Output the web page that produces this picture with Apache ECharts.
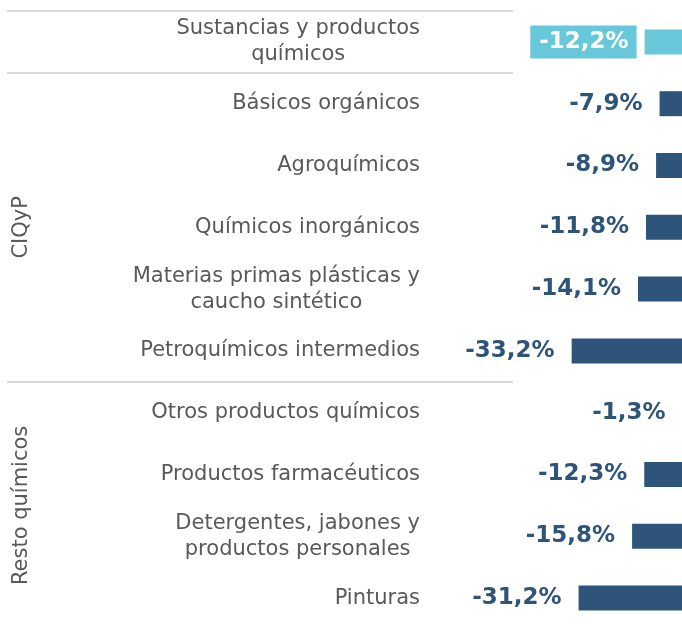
<!DOCTYPE html>
<html>
<head>
<meta charset="utf-8">
<script src="https://cdn.jsdelivr.net/npm/echarts@6/dist/echarts.min.js"></script>
<style>
	html, body { margin: 0; padding: 0; background: #fff; }
	#box { width: 682px; height: 624px; }
</style>
</head>
<body>
<div id="box"></div>
<script>
// categorías (de arriba hacia abajo)
var categorias = [
	'Sustancias y productos\nquímicos',
	'Básicos orgánicos',
	'Agroquímicos',
	'Químicos inorgánicos',
	'Materias primas plásticas y\ncaucho sintético',
	'Petroquímicos intermedios',
	'Otros productos químicos',
	'Productos farmacéuticos',
	'Detergentes, jabones y\nproductos personales',
	'Pinturas'
];
// variación %
var valores = [-12.2, -7.9, -8.9, -11.8, -14.1, -33.2, -1.3, -12.3, -15.8, -31.2];
// grupos: nombre, fila inicial, fila final
var grupos = ['CIQyP', 'Resto químicos'];
var gruposFilas = [[1, 5], [6, 9]];

var azul = '#2e5579';
var celeste = '#68c8da';
var gris = '#595959';
var fuente = 'DejaVu Sans';

var gridTop = 11;
var banda = 61.8;

var chartDom = document.getElementById('box');
var myChart = echarts.init(chartDom);

var datos = valores.map(function(v, i) {
	var d = {
		value: v,
		itemStyle: { color: i === 0 ? celeste : azul }
	};
	if (i === 0) {
		// total: etiqueta blanca sobre caja celeste
		d.label = {
			color: '#fff',
			backgroundColor: celeste,
			padding: [6, 8, 4, 9],
			distance: 8
		};
	}
	return d;
});

// líneas separadoras (total / grupos)
var graficos = [];
[0, 1, 6].forEach(function(fila) {
	var y = Math.round(gridTop + fila * banda);
	graficos.push({
		type: 'line',
		shape: { x1: 7, y1: y, x2: 513, y2: y },
		style: { stroke: '#d9d9d9', lineWidth: 2 }
	});
});
// etiquetas de grupo giradas
grupos.forEach(function(g, i) {
	var yc = gridTop + ((gruposFilas[i][0] + gruposFilas[i][1] + 1) / 2) * banda;
	graficos.push({
		type: 'text',
		x: 22,
		y: yc,
		rotation: Math.PI / 2,
		style: {
			text: g,
			fill: gris,
			font: '21px "' + fuente + '"',
			align: 'center',
			verticalAlign: 'middle'
		}
	});
});

var option = {
	animation: false,
	grid: {
		left: 548,
		width: 139,
		top: gridTop,
		height: banda * categorias.length,
		outerBoundsMode: 'none',
		containLabel: false
	},
	xAxis: {
		type: 'value',
		min: -40,
		max: 0,
		show: false
	},
	yAxis: {
		type: 'category',
		inverse: true,
		data: categorias,
		axisLine: { show: false },
		axisTick: { show: false },
		splitLine: { show: false },
		axisLabel: {
			margin: 128,
			align: 'right',
			color: gris,
			fontFamily: fuente,
			fontSize: 21,
			lineHeight: 26,
			formatter: function(value) {
				return value.split('\n').map(function(l) {
					return '{c|' + l + '}';
				}).join('\n');
			},
			rich: {
				c: {
					align: 'center',
					color: gris,
					fontFamily: fuente,
					fontSize: 21,
					lineHeight: 26
				}
			}
		}
	},
	series: [{
		type: 'bar',
		data: datos,
		barWidth: 25,
		label: {
			show: true,
			position: 'left',
			distance: 8,
			padding: [5, 9, 1, 9],
			color: azul,
			fontFamily: fuente,
			fontWeight: 'bold',
			fontSize: 23,
			formatter: function(p) {
				return p.value.toFixed(1).replace('.', ',') + '%';
			}
		}
	}],
	graphic: graficos
};

myChart.setOption(option);
</script>
</body>
</html>
